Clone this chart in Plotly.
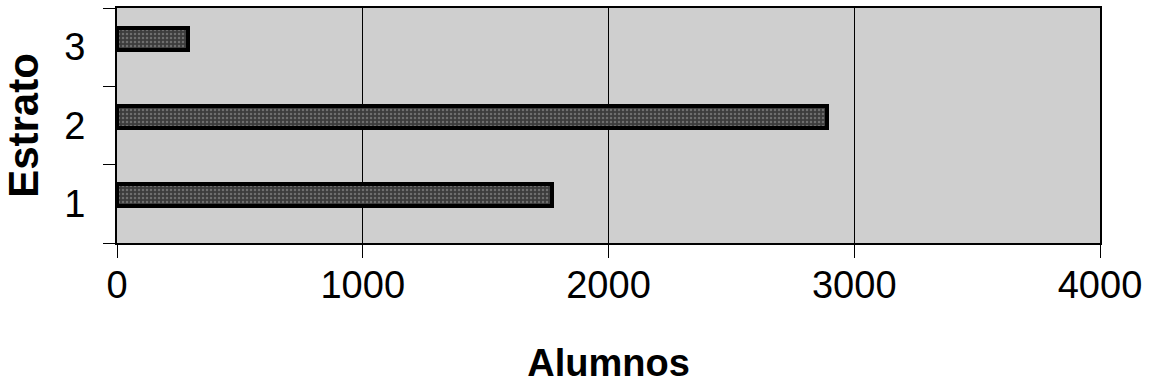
import plotly.graph_objects as go

# Students per stratum
estratos = [1, 2, 3]
alumnos = [1770, 2890, 290]

x_ticks = [0, 1000, 2000, 3000, 4000]
y_labels = ["1", "2", "3"]

tick_font = dict(family="Liberation Sans, Arial", size=38, color="black")
title_font = dict(family="Liberation Sans, Arial", size=38, color="black")

fig = go.Figure(
    go.Bar(
        x=alumnos,
        y=estratos,
        orientation="h",
        width=0.28,
        offset=-0.03,
        marker=dict(
            color="#3c3c3c",
            line=dict(color="black", width=4),
            pattern=dict(shape=".", fgcolor="#a0a0a0", size=4, solidity=0.3),
        ),
        hoverinfo="x+y",
    )
)

fig.update_layout(
    width=1152,
    height=389,
    margin=dict(l=117, r=52, t=8, b=146),
    paper_bgcolor="white",
    plot_bgcolor="#cfcfcf",
    showlegend=False,
    bargap=0,
)

fig.update_xaxes(
    range=[0, 4000],
    tickvals=x_ticks,
    ticktext=[str(v) for v in x_ticks],
    tickfont=tick_font,
    ticks="outside",
    ticklen=13,
    tickwidth=1,
    tickcolor="black",
    ticklabelstandoff=-6,
    showgrid=True,
    gridcolor="black",
    gridwidth=1,
    showline=True,
    linecolor="black",
    linewidth=2,
    mirror=True,
    zeroline=False,
    automargin=False,
    title=dict(text="<b>Alumnos</b>", font=title_font, standoff=45),
)

fig.update_yaxes(
    range=[0.5, 3.5],
    tickvals=estratos,
    ticktext=y_labels,
    tickfont=tick_font,
    ticks="",
    ticklabelstandoff=22,
    minor=dict(tickmode="array", tickvals=[0.5, 1.5, 2.5, 3.5],
               ticks="outside", ticklen=12, tickcolor="black", tickwidth=1,
               showgrid=False),
    showgrid=False,
    showline=True,
    linecolor="black",
    linewidth=2,
    mirror=True,
    zeroline=False,
    automargin=False,
    title=dict(text="<b>Estrato</b>", font=dict(family="Liberation Sans, Arial", size=42, color="black"),
               standoff=24),
)

fig.write_html("out.html")
